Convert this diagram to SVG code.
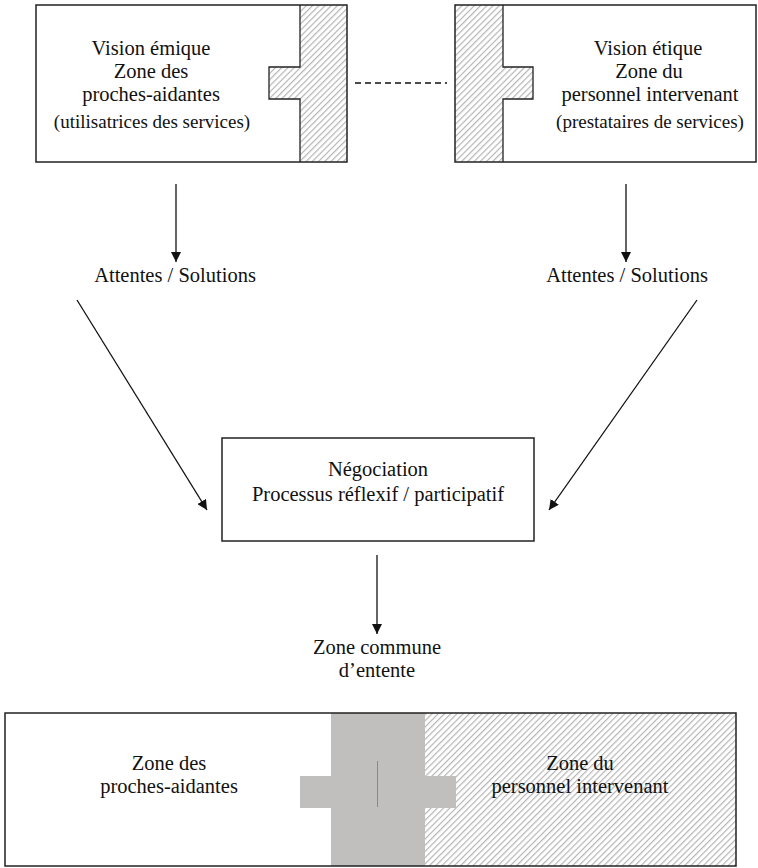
<svg xmlns="http://www.w3.org/2000/svg" width="758" height="868" viewBox="0 0 758 868">
  <style>
    .t { font-size: 20.5px; }
    .s { font-size: 19px; }
    .box { fill: none; stroke: #222; stroke-width: 1.5; }
    .hatch { fill: url(#hatch); }
    .edge { fill: none; stroke: #111; stroke-width: 1.3; }
  </style>
  <defs>
    <pattern id="hatch" patternUnits="userSpaceOnUse" width="4.4" height="4.4" patternTransform="rotate(45)">
      <rect width="4.4" height="4.4" fill="#ffffff"/>
      <line x1="0.6" y1="0" x2="0.6" y2="4.4" stroke="#b0b0b0" stroke-width="1.1"/>
    </pattern>
    <marker id="arrow" viewBox="0 0 10 10" refX="10" refY="5" markerWidth="10" markerHeight="10" markerUnits="userSpaceOnUse" orient="auto">
      <path d="M0,0 L10,5 L0,10 Z" fill="#111"/>
    </marker>
  </defs>

  <g font-family="Liberation Serif, Tinos, DejaVu Serif, serif" fill="#111" text-anchor="middle">
  <g id="node-emique">
    <rect x="36" y="5" width="311" height="157" fill="#fff"/>
    <path class="hatch" d="M300,5 H347 V162 H300 V99 H269 V67 H300 Z"/>
    <path d="M300,5 V67 H269 V99 H300 V162" fill="none" stroke="#222" stroke-width="1.3"/>
    <rect class="box" x="36" y="5" width="311" height="157"/>
    <text class="t" x="151" y="55">Vision émique</text>
    <text class="t" x="151" y="78">Zone des</text>
    <text class="t" x="151" y="101">proches-aidantes</text>
    <text class="s" x="152" y="128">(utilisatrices des services)</text>
  </g>

  <g id="node-etique">
    <rect x="455" y="5" width="301" height="157" fill="#fff"/>
    <path class="hatch" d="M455,5 H503 V67 H533 V99 H503 V162 H455 Z"/>
    <path d="M503,5 V67 H533 V99 H503 V162" fill="none" stroke="#222" stroke-width="1.3"/>
    <rect class="box" x="455" y="5" width="301" height="157"/>
    <text class="t" x="648" y="55">Vision étique</text>
    <text class="t" x="649" y="78">Zone du</text>
    <text class="t" x="650" y="101">personnel intervenant</text>
    <text class="s" x="650" y="128">(prestataires de services)</text>
  </g>

  <g id="label-attentes-left">
    <text class="t" x="175" y="282">Attentes / Solutions</text>
  </g>
  <g id="label-attentes-right">
    <text class="t" x="627" y="282">Attentes / Solutions</text>
  </g>

  <g id="node-negociation">
    <rect class="box" x="222" y="438" width="312" height="103" fill="#fff"/>
    <text class="t" x="378" y="476">Négociation</text>
    <text class="t" x="378" y="501">Processus réflexif / participatif</text>
  </g>

  <g id="label-zone-commune">
    <text class="t" x="377" y="654">Zone commune</text>
    <text class="t" x="377" y="677">d’entente</text>
  </g>

  <g id="node-zone-finale">
    <rect x="5" y="713" width="731" height="153" fill="#fff"/>
    <rect class="hatch" x="425" y="713" width="311" height="153"/>
    <path d="M331,713 H425 V776 H456 V808 H425 V866 H331 V808 H300 V776 H331 Z" fill="#c0bfbd"/>
    <line x1="377.5" y1="761" x2="377.5" y2="807" stroke="#8a8a8a" stroke-width="1"/>
    <rect class="box" x="5" y="713" width="731" height="153"/>
    <text class="t" x="169" y="770">Zone des</text>
    <text class="t" x="169" y="793">proches-aidantes</text>
    <text class="t" x="580" y="770">Zone du</text>
    <text class="t" x="580" y="793">personnel intervenant</text>
  </g>
  </g>

  <g id="connectors">
    <line x1="355" y1="83" x2="447" y2="83" stroke="#111" stroke-width="1.5" stroke-dasharray="6,4"/>
    <line class="edge" x1="176" y1="184" x2="176" y2="262" marker-end="url(#arrow)"/>
    <line class="edge" x1="626" y1="184" x2="626" y2="262" marker-end="url(#arrow)"/>
    <line class="edge" x1="77" y1="300" x2="207" y2="510" marker-end="url(#arrow)"/>
    <line class="edge" x1="697" y1="300" x2="549" y2="510" marker-end="url(#arrow)"/>
    <line class="edge" x1="377" y1="555" x2="377" y2="634" marker-end="url(#arrow)"/>
  </g>
</svg>
